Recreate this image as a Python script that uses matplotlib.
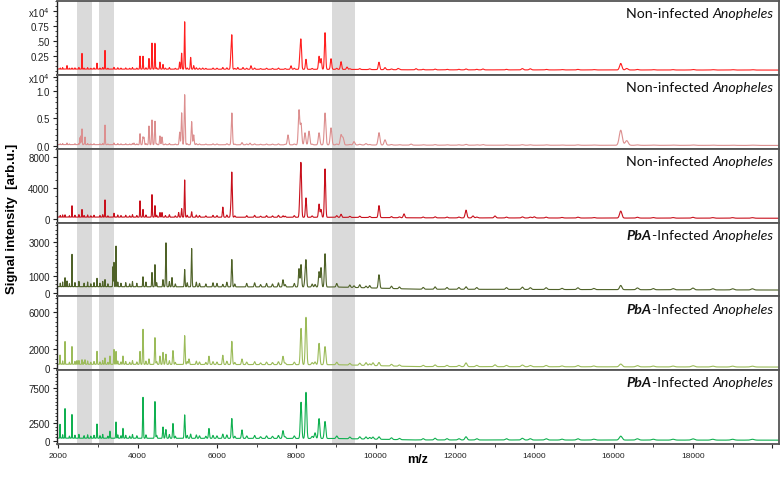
import numpy as np
import matplotlib
matplotlib.use("Agg")
from matplotlib import pyplot as plt
from matplotlib.ticker import MultipleLocator, FixedLocator
from matplotlib.offsetbox import TextArea, HPacker, AnchoredOffsetbox

# peak lists: m/z and height above baseline [arb.u.]
p1_mz = [2219, 2345, 2597, 2976, 3177, 3404, 4060, 4135, 4286, 4362, 4437, 4563, 4639, 5059, 5110, 5186,
         5337, 5413, 5640, 6148, 6350, 6375, 6526, 6656, 6858, 7867, 8094, 8120, 8245, 8574, 8624, 8725,
         8876, 9128, 9279, 10085, 10237, 10564, 11018, 12279, 12707, 13700, 13900, 16180, 16330]
p1_int = [600, 200, 2700, 1000, 3200, 300, 2200, 2200, 1800, 4400, 4400, 1200, 800, 1200, 2700, 8000,
          2000, 600, 200, 300, 2200, 5600, 300, 300, 600, 600, 2800, 4400, 1700, 2200, 1800, 6200,
          1800, 1300, 400, 1250, 350, 200, 200, 150, 150, 100, 100, 1100, 250]

p2_mz = [2219, 2547, 2572, 2597, 2673, 3177, 3404, 3908, 4060, 4135, 4160, 4286, 4362, 4437, 4563, 4614,
         5059, 5110, 5186, 5362, 5413, 6375, 6631, 6833, 7791, 8069, 8120, 8220, 8321, 8574, 8725, 8876,
         9128, 9178, 9455, 9758, 10085, 10237, 10892, 12279, 12707, 16180, 16330]
p2_int = [300, 1300, 1600, 2900, 1400, 3600, 300, 300, 2000, 1400, 1300, 3400, 4500, 4300, 1600, 1400,
          2300, 5800, 9100, 4200, 1800, 5800, 400, 300, 1800, 6300, 3800, 2200, 2500, 2200, 5800, 3100,
          1800, 1300, 600, 250, 2250, 950, 200, 150, 120, 2750, 850]

p3_mz = [2169, 2345, 2597, 3177, 3404, 4060, 4135, 4362, 4437, 4563, 4614, 5034, 5110, 5186, 5362, 6148,
         6350, 6375, 7665, 8094, 8120, 8245, 8574, 8624, 8725, 9128, 10085, 10716, 12279, 12455, 13010,
         14000, 16180]
p3_int = [300, 1500, 1000, 2250, 500, 2100, 1000, 2900, 1500, 600, 600, 600, 1100, 4800, 700, 1300,
          1300, 5700, 200, 3300, 6250, 2500, 1700, 1000, 6250, 400, 1550, 500, 1000, 250, 250, 150, 900]

p4_mz = [2169, 2219, 2345, 2976, 3177, 3379, 3404, 3455, 4135, 4362, 4437, 4639, 4715, 4866, 5186, 5362,
         6148, 6375, 7665, 8069, 8120, 8220, 8245, 8473, 8574, 8624, 8725, 9455, 9758, 10085, 12279, 16180]
p4_int = [550, 350, 1980, 500, 430, 1210, 1450, 2450, 600, 850, 1330, 430, 2580, 550, 1030, 2280,
          150, 1630, 430, 1090, 1330, 450, 1510, 150, 910, 1150, 1980, 100, 100, 800, 150, 250]

p5_mz = [2043, 2169, 2345, 2471, 2597, 2673, 2976, 3177, 3303, 3404, 3455, 3631, 4060, 4135, 4286, 4437,
         4563, 4639, 4715, 4891, 5186, 5295, 5799, 6148, 6375, 6631, 7665, 8120, 8245, 8473, 8574, 8725,
         9758, 9934, 10085, 12279, 13010, 16180]
p5_int = [900, 2500, 1950, 400, 500, 500, 1400, 700, 900, 1600, 1400, 900, 1400, 3800, 600, 2900,
          900, 1300, 1000, 1500, 3100, 600, 900, 1000, 2500, 600, 900, 3900, 5100, 300, 2300, 1950,
          300, 300, 350, 400, 200, 300]

p6_mz = [2043, 2169, 2345, 2976, 3303, 3455, 3631, 4135, 4437, 4639, 4715, 4891, 5186, 5337, 5799, 6148,
         6375, 6631, 7665, 8120, 8245, 8473, 8574, 8725, 9758, 9934, 10085, 12279, 16180]
p6_int = [1850, 4250, 3400, 2000, 1000, 2300, 1400, 5800, 5200, 1600, 1100, 2100, 3300, 600, 1400, 600,
          2800, 1200, 1100, 5100, 6500, 800, 2800, 2400, 300, 300, 350, 450, 550]

# small background peaks (same positions in every spectrum), relative size
grass_mz = [2050, 2110, 2280, 2420, 2520, 2650, 2740, 2820, 2900, 3050, 3120, 3250, 3500, 3580, 3700,
            3800, 3870, 3980, 4210, 4480, 4700, 4800, 4950, 5250, 5480, 5560, 5720, 5900, 6000, 6250,
            6450, 6750, 6950, 7100, 7250, 7400, 7550, 7720, 7950, 8400, 9020, 9350, 9600, 9850, 10400,
            10600, 11200, 11500, 11800, 12100, 12550, 13300, 13700, 13900, 14300, 14700, 15100, 15500,
            16600, 17000, 17500, 18000, 18500, 19000, 19500]
grass_rel = [0.6, 0.8, 0.5, 0.7, 0.9, 0.6, 0.8, 0.5, 0.7, 0.6, 0.9, 0.5, 0.8, 0.6, 0.7,
             0.5, 0.9, 0.6, 0.8, 0.7, 0.6, 0.9, 0.5, 0.7, 0.8, 0.6, 0.5, 0.7, 0.6, 0.8,
             0.5, 0.6, 0.7, 0.4, 0.6, 0.5, 0.7, 0.4, 0.6, 0.5, 0.6, 0.4, 0.5, 0.4, 0.4,
             0.3, 0.3, 0.4, 0.3, 0.3, 0.3, 0.3, 0.4, 0.3, 0.3, 0.2, 0.3, 0.2,
             0.3, 0.2, 0.2, 0.3, 0.2, 0.2, 0.2]
grass_level = [300, 250, 350, 350, 450, 600]

base_mz = [2000, 9000, 11000, 20000]
baselines = [[250, 200, 120, 80], [250, 200, 150, 100], [250, 220, 150, 100],
             [350, 330, 200, 150], [400, 350, 150, 100], [400, 350, 150, 120]]

peaks = [(p1_mz, p1_int), (p2_mz, p2_int), (p3_mz, p3_int),
         (p4_mz, p4_int), (p5_mz, p5_int), (p6_mz, p6_int)]
colors = ['#ff1f1f', '#dc8f8f', '#c8101c', '#4f6228', '#9bbb59', '#10b050']
labels = [('', 'Non-infected ', 'Anopheles')] * 3 + [('PbA', '-Infected ', 'Anopheles')] * 3
width_factor = [0.0018, 0.0023, 0.0018, 0.0018, 0.0022, 0.0022]

ylims = [(-726, 11740), (-490, 12945), (-452, 9071), (-226, 4167), (-237, 7710), (-423, 9972)]
yticks = [[2500, 5000, 7500, 10000], [0, 5000, 10000, 12500], [0, 4000, 8000],
          [0, 1000, 3000], [0, 2000, 6000], [0, 2500, 7500]]
yticklabels = [['0.25', '.50', '0.75', 'x10$^4$'], ['0.0', '0.5', '1.0', 'x10$^4$'],
               ['0', '4000', '8000'], ['0', '1000', '3000'], ['0', '2000', '6000'], ['0', '2500', '7500']]
yminor = [833, 1000, 1000, 250, 500, 500]

bands = [(2465, 2850), (3025, 3400), (8905, 9470)]

mz = np.arange(1960, 20170, 2.0)

fig = plt.figure(figsize=(7.84, 4.81), dpi=100)
left, width = 56.7 / 784, (779 - 56.7) / 784
top, bottom = 1 - 2 / 481, 1 - 445 / 481
h = (top - bottom) / 6

for i in range(6):
    ax = fig.add_axes([left, top - (i + 1) * h, width, h])
    for a, b in bands:
        ax.axvspan(a, b, color='#dadada', lw=0, zorder=0)

    # build the trace from the peak list
    sig = np.interp(mz, base_mz, baselines[i])
    for m, r in zip(grass_mz, grass_rel):
        s = width_factor[i] * m
        sig += grass_level[i] * r * np.exp(-0.5 * ((mz - m) / s) ** 2)
    for m, v in zip(*peaks[i]):
        s = width_factor[i] * m
        sig += v * np.exp(-0.5 * ((mz - m) / s) ** 2)
    ax.plot(mz, sig, color=colors[i], lw=0.8, zorder=2)

    ax.set_xlim(1960, 20170)
    ax.set_ylim(*ylims[i])
    ax.yaxis.set_major_locator(FixedLocator(yticks[i]))
    ax.set_yticklabels(yticklabels[i])
    ax.yaxis.set_minor_locator(MultipleLocator(yminor[i]))
    ax.tick_params(axis='y', which='major', direction='out', length=3, width=0.8, labelsize=7, pad=2,
                   colors='#222222')
    ax.tick_params(axis='y', which='minor', direction='out', length=1.8, width=0.6, colors='#222222')
    for sp in ax.spines.values():
        sp.set_color('#555555')
        sp.set_linewidth(1.3)
    ax.spines['left'].set_color('#222222')
    ax.spines['left'].set_linewidth(1.0)

    if i < 5:
        ax.set_xticks([])
    else:
        ax.set_xticks(range(2000, 20001, 2000))
        ax.set_xticklabels([str(v) for v in range(2000, 19000, 2000)] + [''])
        ax.xaxis.set_minor_locator(FixedLocator(range(3000, 20000, 2000)))
        ax.tick_params(axis='x', which='major', direction='out', length=3, width=0.8, labelsize=6,
                       pad=3, colors='#222222')
        ax.tick_params(axis='x', which='minor', direction='out', length=2, width=0.6, colors='#222222')

    # panel label with mixed styles
    bold, plain, ital = labels[i]
    parts = []
    if bold:
        parts.append(TextArea(bold, textprops=dict(family='Lato', size=10.2, weight='bold', style='italic',
                                                   color='#111111')))
    parts.append(TextArea(plain, textprops=dict(family='Lato', size=10.2, color='#111111')))
    parts.append(TextArea(ital, textprops=dict(family='Lato', size=10.2, style='italic', color='#111111')))
    box = HPacker(children=parts, align='baseline', pad=0, sep=0)
    anch = AnchoredOffsetbox(loc='upper right', child=box, pad=0, borderpad=0, frameon=False,
                             bbox_to_anchor=(0.9917, 0.915), bbox_transform=ax.transAxes)
    ax.add_artist(anch)

fig.text(12 / 784, 0.545, 'Signal intensity  [arb.u.]', rotation=90, ha='center', va='center',
         fontsize=9.5, fontweight='bold', family='Liberation Sans')
fig.text(418 / 784, 1 - 460 / 481, 'm/z', ha='center', va='center', fontsize=9, fontweight='bold',
         family='Liberation Sans')

for ax in fig.axes:
    for t in ax.get_xticklabels() + ax.get_yticklabels():
        t.set_family('Liberation Sans')

fig.savefig('out.png', dpi=100)
